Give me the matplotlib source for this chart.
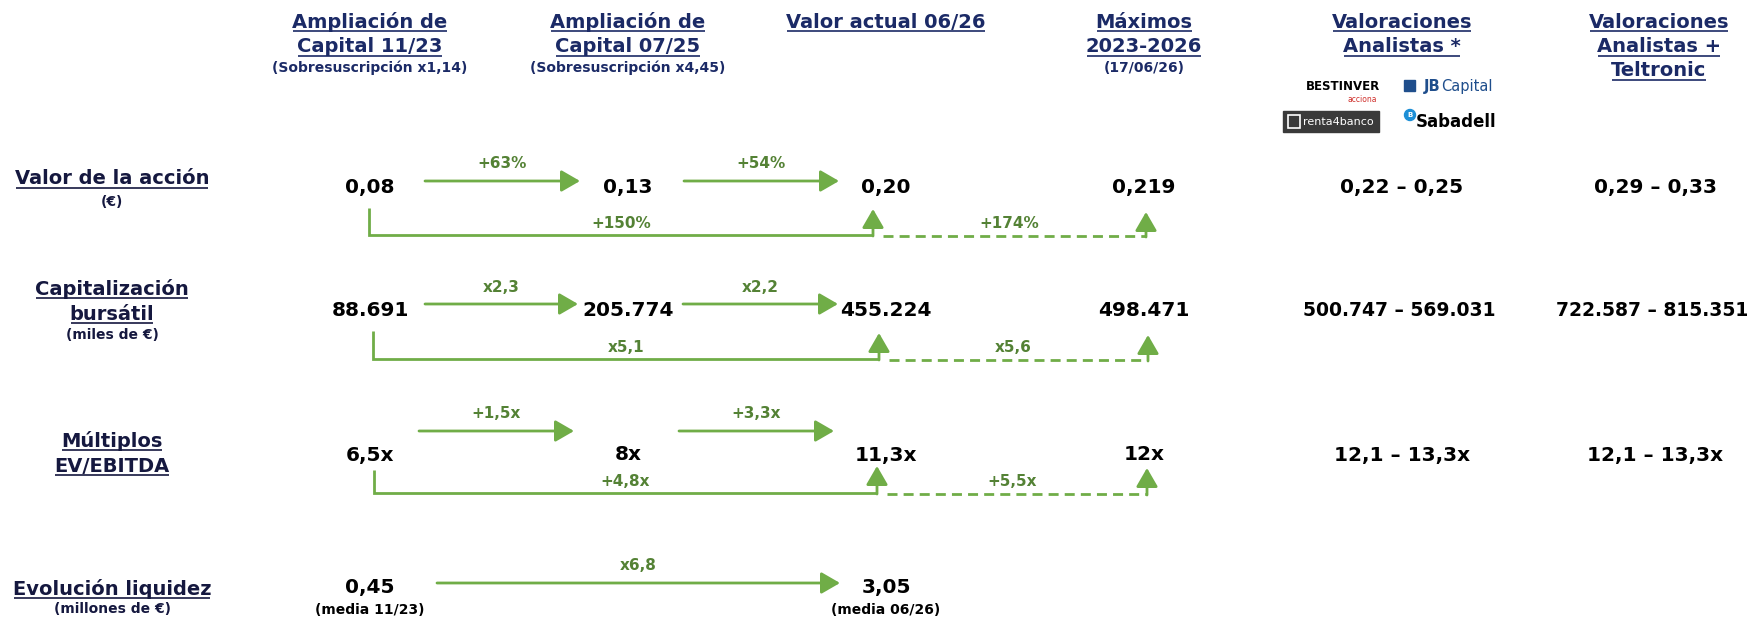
import matplotlib
matplotlib.use("Agg")
import matplotlib.pyplot as plt
from matplotlib.patches import Rectangle, Circle

# ---------------- data ----------------
col_headers = [["Ampliación de", "Capital 11/23"],
               ["Ampliación de", "Capital 07/25"],
               ["Valor actual 06/26"],
               ["Máximos", "2023-2026"],
               ["Valoraciones", "Analistas *"],
               ["Valoraciones", "Analistas +", "Teltronic"]]
col_notes = ["(Sobresuscripción x1,14)", "(Sobresuscripción x4,45)", "", "(17/06/26)", "", ""]

row_labels = [["Valor de la acción"], ["Capitalización", "bursátil"],
              ["Múltiplos", "EV/EBITDA"], ["Evolución liquidez"]]
row_units = ["(€)", "(miles de €)", "", "(millones de €)"]

precio = ["0,08", "0,13", "0,20", "0,219", "0,22 – 0,25", "0,29 – 0,33"]
capitalizacion = ["88.691", "205.774", "455.224", "498.471",
                  "500.747 – 569.031", "722.587 – 815.351"]
multiplos = ["6,5x", "8x", "11,3x", "12x", "12,1 – 13,3x", "12,1 – 13,3x"]
liquidez = ["0,45", "", "3,05", "", "", ""]
liquidez_notes = ["(media 11/23)", "", "(media 06/26)", "", "", ""]

step_precio = ["+63%", "+54%"]
step_cap = ["x2,3", "x2,2"]
step_mult = ["+1,5x", "+3,3x"]
step_liq = ["x6,8"]
total_labels = ["+150%", "x5,1", "+4,8x"]
max_labels = ["+174%", "x5,6", "+5,5x"]

analysts = ["BESTINVER", "JBCapital", "renta4banco", "Sabadell"]

# ---------------- style / layout ----------------
NAVY = "#1b2a66"
DARK = "#15183f"
GREEN = "#70ad47"
GTEXT = "#548235"
FAM = "DejaVu Sans"

W, H = 1752, 618
col_x = [370, 628, 886, 1144, 1402, 1655]
head_x = [370, 628, 886, 1144, 1402, 1659]
head_y = [22, 47, 71]
label_x = 112
value_y = [187, 311, 455, 588]
arrow_y = [181, 304, 431, 583]
step_spans = [[(425, 580), (684, 839)],
              [(425, 578), (683, 838)],
              [(419, 574), (679, 834)],
              [(437, 840)]]
# bracket: x0, top, bottom, x_cur, tip_cur, x_max, tip_max, label_y
brackets = [(369, 208, 235, 873, 209, 1146, 212, 223),
            (373, 331, 359, 879, 333, 1148, 335, 347),
            (374, 470, 493, 877, 466, 1147, 468, 482)]
label_lines = [[179], [289, 314], [441, 466], [589]]
unit_y = [202, 335, None, 609]

fig = plt.figure(figsize=(W / 100, H / 100), dpi=100)
ax = fig.add_axes([0, 0, 1, 1])
ax.set_xlim(0, W)
ax.set_ylim(H, 0)
ax.axis("off")

underlined = []


def txt(x, y, s, size, color, ul=False, ha="center", weight="bold", **kw):
    t = ax.text(x, y, s, fontsize=size, color=color, fontweight=weight,
                ha=ha, va="center", family=FAM, **kw)
    if ul:
        underlined.append((t, color))
    return t


def arrow(x0, y0, x1, y1):
    ax.annotate("", xy=(x1, y1), xytext=(x0, y0),
                arrowprops=dict(arrowstyle="-|>,head_length=0.95,head_width=0.55",
                                color=GREEN, lw=2, shrinkA=0, shrinkB=0,
                                mutation_scale=12))


# headers
for i, lines in enumerate(col_headers):
    for j, s in enumerate(lines):
        txt(head_x[i], head_y[j], s, 14, NAVY, ul=True)
    if col_notes[i]:
        txt(head_x[i], head_y[2] - 3, col_notes[i], 10, NAVY)

# analyst logos (as text)
txt(1343, 86, analysts[0], 8.5, "black")
txt(1362, 99, "acciona", 5.5, "#d0312d", weight="normal")
ax.add_patch(Rectangle((1404, 80), 11, 11, color="#1f4e8c"))
txt(1424, 86, analysts[1][:2], 10.5, "#1f4e8c", ha="left")
txt(1441, 86, analysts[1][2:], 10.5, "#1f4e8c", ha="left", weight="normal")
ax.add_patch(Rectangle((1283, 111), 96, 21, color="#3a3a3a"))
ax.add_patch(Rectangle((1288, 115), 12, 13, fill=False, ec="white", lw=1.2))
txt(1303, 122, analysts[2], 8, "white", ha="left", weight="normal")
ax.add_patch(Circle((1410, 115), 5.5, color="#1d8fd6"))
txt(1410, 115, "B", 5, "white")
txt(1416, 122, analysts[3], 12, "black", ha="left")

# row labels
for r, lines in enumerate(row_labels):
    for j, s in enumerate(lines):
        txt(label_x, label_lines[r][j], s, 14, DARK, ul=True)
    if row_units[r]:
        txt(label_x, unit_y[r], row_units[r], 10, DARK)

# values
rows = [precio, capitalizacion, multiplos, liquidez]
for r, vals in enumerate(rows):
    for i, v in enumerate(vals):
        if v:
            size = 14.5
            x = col_x[i]
            if r == 1 and i >= 4:
                size = 13.5
                x = col_x[i] - 3
            txt(x, value_y[r], v, size, "black")
for i, n in enumerate(liquidez_notes):
    if n:
        txt(col_x[i], 610, n, 10, "black")

# step arrows
steps = [step_precio, step_cap, step_mult, step_liq]
for r, labs in enumerate(steps):
    for k, lab in enumerate(labs):
        x0, x1 = step_spans[r][k]
        arrow(x0, arrow_y[r], x1, arrow_y[r])
        txt((x0 + x1) / 2, arrow_y[r] - 17, lab, 11, GTEXT)

# brackets
for r, (x0, top, bot, xc, tc, xm, tm, ly) in enumerate(brackets):
    ax.plot([x0, x0, xc], [top, bot, bot], color=GREEN, lw=2,
            solid_joinstyle="miter", solid_capstyle="butt")
    arrow(xc, bot + 1, xc, tc)
    ax.plot([xc + 10, xm], [bot + 1, bot + 1], color=GREEN, lw=2,
            linestyle=(0, (3.6, 2.2)))
    arrow(xm, bot + 2, xm, tm)
    txt((x0 + xc) / 2, ly, total_labels[r], 11, GTEXT)
    txt((xc + xm) / 2, ly, max_labels[r], 11, GTEXT)

# underlines
fig.canvas.draw()
rend = fig.canvas.get_renderer()
inv = ax.transData.inverted()
for t, c in underlined:
    bb = t.get_window_extent(rend)
    (a, b), (cx, d) = inv.transform([[bb.x0, bb.y0], [bb.x1, bb.y1]])
    yb = max(b, d) - 1
    ax.plot([a + 1, cx - 1], [yb, yb], color=c, lw=1.2, solid_capstyle="butt")

fig.savefig("out.png", dpi=100, facecolor="white")
